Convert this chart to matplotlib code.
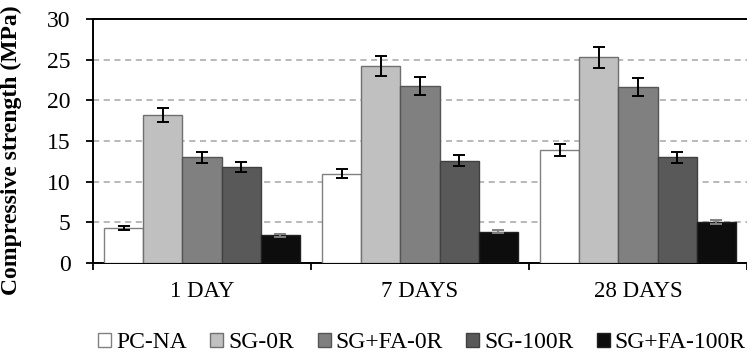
import matplotlib
matplotlib.use("Agg")
import matplotlib.pyplot as plt
import numpy as np

plt.rcParams['font.family'] = ['Liberation Serif', 'DejaVu Serif']

categories = ["1 DAY", "7 DAYS", "28 DAYS"]
series = ["PC-NA", "SG-0R", "SG+FA-0R", "SG-100R", "SG+FA-100R"]
values = {
    "PC-NA": [4.3, 11.0, 13.9],
    "SG-0R": [18.2, 24.2, 25.3],
    "SG+FA-0R": [13.0, 21.8, 21.6],
    "SG-100R": [11.8, 12.6, 13.0],
    "SG+FA-100R": [3.4, 3.85, 5.0],
}
errors = {
    "PC-NA": [0.2, 0.5, 0.7],
    "SG-0R": [0.9, 1.2, 1.3],
    "SG+FA-0R": [0.65, 1.1, 1.1],
    "SG-100R": [0.6, 0.65, 0.65],
    "SG+FA-100R": [0.15, 0.2, 0.25],
}
colors = ["#ffffff", "#c0c0c0", "#808080", "#595959", "#0d0d0d"]
edges = ["#808080", "#707070", "#555555", "#404040", "#202020"]
ecolors = ["black", "black", "black", "black", "#808080"]

fig = plt.figure(figsize=(7.47, 3.61), dpi=100)
ax = fig.add_axes([93/747, 1-263/361, 654/747, 244/361])

x = np.arange(len(categories))
w = 0.179
for i, s in enumerate(series):
    pos = x + (i - 2) * w
    ax.bar(pos, values[s], width=w, color=colors[i], edgecolor=edges[i],
           linewidth=1.0, label=s, zorder=3,
           yerr=errors[s], error_kw=dict(ecolor=ecolors[i], elinewidth=1.4,
                                         capsize=4, capthick=1.4, zorder=4))

ax.set_xlim(-0.5, 2.5)
ax.set_ylim(0, 30)
ax.set_yticks(range(0, 31, 5))
ax.yaxis.grid(True, linestyle=(0, (4, 3)), color="#a6a6a6", linewidth=1.1, zorder=0)
for spine in ["left", "bottom", "top"]:
    ax.spines[spine].set_color("black")
    ax.spines[spine].set_linewidth(1.4)
ax.spines["right"].set_visible(False)

ax.set_xticks([-0.5, 0.5, 1.5, 2.5])
ax.set_xticklabels([])
ax.set_xticks(x, minor=True)
ax.set_xticklabels(categories, minor=True, fontsize=16.5)
ax.tick_params(axis="x", which="minor", length=0, pad=13)
ax.tick_params(axis="x", which="major", length=5, width=1.3, direction="out")
ax.tick_params(axis="y", length=5, width=1.3, direction="out", labelsize=17, pad=11)

ax.set_ylabel("Compressive strength (MPa)", fontsize=17, fontweight="bold")
ax.yaxis.set_label_coords((22-93)/654, (263-150)/244)

leg = fig.legend(loc="center", bbox_to_anchor=(422/747, 1-343/361), ncol=5,
                 frameon=False, fontsize=17, handlelength=0.55, handleheight=0.55,
                 handletextpad=0.2, columnspacing=1.0, borderaxespad=0)

fig.savefig("out.png", dpi=100)
